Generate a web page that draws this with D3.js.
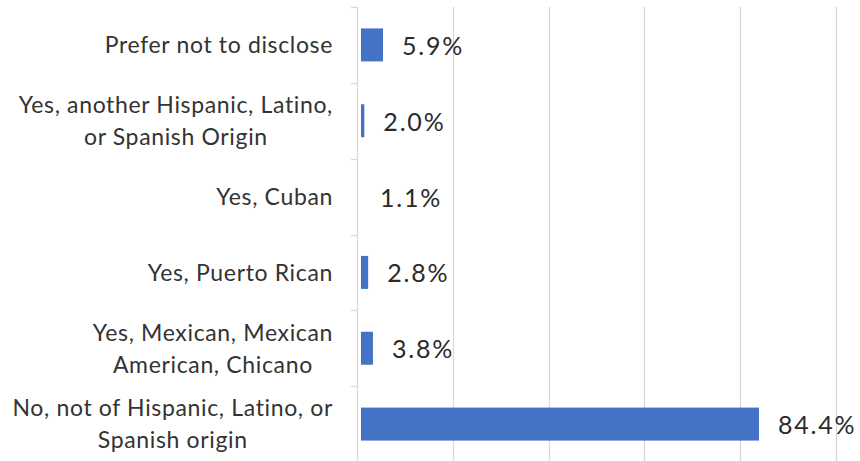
<!DOCTYPE html>
<html>
<head>
<meta charset="utf-8">
<script src="https://cdn.jsdelivr.net/npm/d3@7"></script>
<style>
  body { margin: 0; background: #fff; }
  text { font-family: Lato, "Liberation Sans", sans-serif; }
</style>
</head>
<body>
<div id="chart"></div>
<script>
// categories top to bottom, each one an array of label lines
var categories = [
    ["Prefer not to disclose"],
    ["Yes, another Hispanic, Latino,", "or Spanish Origin"],
    ["Yes, Cuban"],
    ["Yes, Puerto Rican"],
    ["Yes, Mexican, Mexican", "American, Chicano"],
    ["No, not of Hispanic, Latino, or", "Spanish origin"]
];
var values = [5.9, 2.0, 1.1, 2.8, 3.8, 84.4];
var tick_values = [0, 20, 40, 60, 80, 100];

var width = 860;
var height = 461;
var axis_x = 357;
var x_offset = 0.47;   // axis starts a touch above zero

var svg = d3.select("#chart")
            .append("svg")
            .attr("width", width)
            .attr("height", height);

var x = d3.scaleLinear()
          .domain([x_offset, x_offset + 100])
          .range([axis_x, 836]);

var y = d3.scaleBand()
          .domain(d3.range(categories.length))
          .range([7, 462])
          .paddingInner(0.565)
          .paddingOuter(0.2825);

// vertical gridlines
svg.selectAll("line.grid")
   .data(tick_values.slice(1))
   .enter()
   .append("line")
   .attr("class", "grid")
   .attr("x1", function(d) { return Math.round(x(d + x_offset)) + 0.5; })
   .attr("x2", function(d) { return Math.round(x(d + x_offset)) + 0.5; })
   .attr("y1", 7)
   .attr("y2", height)
   .style("stroke", "#d9d9d9")
   .style("stroke-width", 1.3);

// category axis with outward ticks at band edges
var step = y.step();
var edges = d3.range(categories.length + 1).map(function(i) {
    return y(0) - y.paddingOuter() * step + i * step;
});

svg.append("line")
   .attr("x1", axis_x + 0.5)
   .attr("x2", axis_x + 0.5)
   .attr("y1", 7)
   .attr("y2", height)
   .style("stroke", "#d9d9d9")
   .style("stroke-width", 1.3);

svg.selectAll("line.tick")
   .data(edges)
   .enter()
   .append("line")
   .attr("class", "tick")
   .attr("x1", axis_x - 6)
   .attr("x2", axis_x)
   .attr("y1", function(d) { return Math.round(d) + 0.5; })
   .attr("y2", function(d) { return Math.round(d) + 0.5; })
   .style("stroke", "#d9d9d9")
   .style("stroke-width", 1.3);

// bars sit a few px inside the axis line
var bar_start = axis_x + 4;

svg.selectAll("rect.bar")
   .data(values)
   .enter()
   .append("rect")
   .attr("class", "bar")
   .attr("x", bar_start)
   .attr("y", function(d, i) { return y(i); })
   .attr("width", function(d) { return Math.max(0, x(d) - bar_start); })
   .attr("height", y.bandwidth())
   .style("fill", "#4472c4");

// value labels
svg.selectAll("text.value")
   .data(values)
   .enter()
   .append("text")
   .attr("class", "value")
   .attr("x", function(d) { return Math.max(x(d), bar_start) + 19; })
   .attr("y", function(d, i) { return y(i) + y.bandwidth() / 2 + 1; })
   .attr("dy", "0.36em")
   .style("font-size", "25px")
   .style("letter-spacing", "1.8px")
   .style("fill", "#2b2b2b")
   .text(function(d) { return d.toFixed(1) + "%"; });

// category labels: block right-aligned, lines centred within it
var label_right = 333;
var line_gap = 32;

categories.forEach(function(lines, i) {
    var g = svg.append("g");
    var cy = y(i) + y.bandwidth() / 2;
    var texts = g.selectAll("text")
                 .data(lines)
                 .enter()
                 .append("text")
                 .attr("y", function(d, j) { return cy + (j - (lines.length - 1) / 2) * line_gap; })
                 .attr("dy", "0.36em")
                 .style("font-size", "23px")
                 .style("letter-spacing", "0.65px")
                 .style("fill", "#333333")
                 .text(function(d) { return d; });
    var widest = d3.max(texts.nodes(), function(n) { return n.getComputedTextLength(); });
    texts.attr("x", label_right - widest / 2)
         .attr("text-anchor", "middle");
});
</script>
</body>
</html>
